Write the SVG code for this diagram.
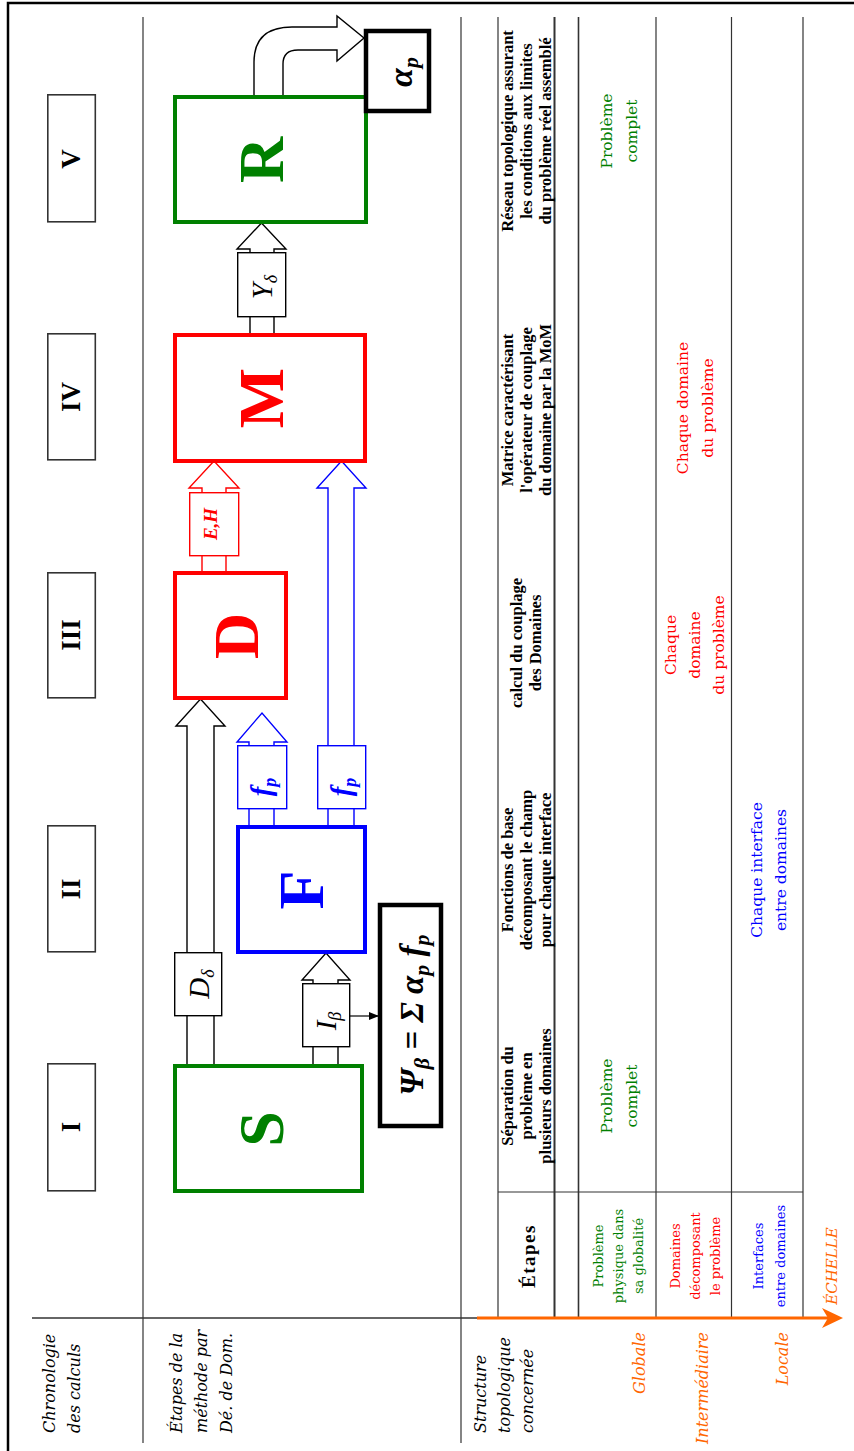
<svg xmlns="http://www.w3.org/2000/svg" width="854" height="1451" viewBox="0 0 854 1451">
<style>
.grid{stroke:#333;stroke-width:1.2;fill:none}
.chrono{fill:#fff;stroke:#333;stroke-width:1.6}
.roman{font-family:"Liberation Serif",serif;font-weight:bold;font-size:27px;text-anchor:middle;fill:#000}
.big{font-family:"Liberation Serif",serif;font-weight:bold;font-size:64px;text-anchor:middle}
.lbl{font-family:"Liberation Serif",serif;font-style:italic;font-size:29px;text-anchor:middle}
.hdr{font-family:"Liberation Serif",serif;font-weight:bold;font-size:16.5px;text-anchor:middle;fill:#000}
.cell{font-family:"DejaVu Serif",serif;font-size:15.5px;text-anchor:middle}
.small{font-family:"DejaVu Serif",serif;font-size:13px;text-anchor:middle}
.ital{font-family:"DejaVu Serif",serif;font-style:italic;font-size:16px}
.arrow{fill:#fff;stroke-width:1.4}
.tag{fill:#fff;stroke-width:1.4}
</style>
<defs>
<marker id="ah" markerWidth="10" markerHeight="8" refX="9" refY="4" orient="auto" markerUnits="userSpaceOnUse">
<path d="M0,0 L10,4 L0,8 Z" fill="#000"/>
</marker>
</defs>
<rect width="854" height="1451" fill="#fff"/>
<rect x="8" y="3" width="900" height="1500" fill="none" stroke="#000" stroke-width="2.5"/>

<g id="grid">
<line class="grid" x1="143" y1="17" x2="143" y2="1443"/>
<line class="grid" x1="461" y1="17" x2="461" y2="1443"/>
<line class="grid" x1="498" y1="17" x2="498" y2="1318"/>
<line class="grid" x1="554.5" y1="17" x2="554.5" y2="1318" style="stroke-width:2"/>
<line class="grid" x1="578.5" y1="17" x2="578.5" y2="1318" style="stroke-width:1.6"/>
<line class="grid" x1="656" y1="17" x2="656" y2="1318"/>
<line class="grid" x1="731.5" y1="17" x2="731.5" y2="1318"/>
<line class="grid" x1="803" y1="17" x2="803" y2="1318"/>
<line class="grid" x1="498" y1="1192" x2="803" y2="1192"/>
<line class="grid" x1="32" y1="1318" x2="477" y2="1318" style="stroke-width:1.5"/>
</g>

<g id="axis">
<line x1="477" y1="1318" x2="830" y2="1318" stroke="#FF6600" stroke-width="3"/>
<polygon points="843,1318 822,1308 828,1318 822,1328" fill="#FF6600"/>
<text class="ital" fill="#FF6600" style="font-size:15px;text-anchor:middle" transform="translate(837,1266) rotate(-90)">ÉCHELLE</text>
</g>

<g id="row-labels">
<text class="ital" fill="#000" transform="translate(55,1433) rotate(-90)">Chronologie<tspan x="0" dy="25">des calculs</tspan></text>
<text class="ital" fill="#000" transform="translate(182,1433) rotate(-90)">Étapes de la<tspan x="0" dy="25">méthode par</tspan><tspan x="0" dy="25">Dé. de Dom.</tspan></text>
<text class="ital" fill="#000" transform="translate(486,1433) rotate(-90)">Structure<tspan x="0" dy="23.5">topologique</tspan><tspan x="0" dy="23.5">concernée</tspan></text>
<text class="ital" fill="#FF6600" style="text-anchor:end" transform="translate(645,1332) rotate(-90)">Globale</text>
<text class="ital" fill="#FF6600" style="text-anchor:end" transform="translate(708,1332) rotate(-90)">Intermédiaire</text>
<text class="ital" fill="#FF6600" style="text-anchor:end" transform="translate(788,1332) rotate(-90)">Locale</text>
</g>

<g id="table">
<text class="hdr" style="font-size:19px;letter-spacing:1.5px" transform="translate(535,1256) rotate(-90)">Étapes</text>
<text class="small" fill="#008000" transform="translate(603,1256) rotate(-90)">Problème<tspan x="0" dy="20">physique dans</tspan><tspan x="0" dy="20">sa globalité</tspan></text>
<text class="small" fill="#FF0000" transform="translate(680,1256) rotate(-90)">Domaines<tspan x="0" dy="20">décomposant</tspan><tspan x="0" dy="20">le problème</tspan></text>
<text class="small" fill="#0000FF" transform="translate(763,1256) rotate(-90)">Interfaces<tspan x="0" dy="22">entre domaines</tspan></text>

<text class="hdr" transform="translate(513,1096) rotate(-90)">Séparation du<tspan x="0" dy="19">problème en</tspan><tspan x="0" dy="19">plusieurs domaines</tspan></text>
<text class="hdr" transform="translate(513,870) rotate(-90)">Fonctions de base<tspan x="0" dy="19">décomposant le champ</tspan><tspan x="0" dy="19">pour chaque interface</tspan></text>
<text class="hdr" transform="translate(522,643) rotate(-90)">calcul du couplage<tspan x="0" dy="19">des Domaines</tspan></text>
<text class="hdr" transform="translate(513,410) rotate(-90)">Matrice caractérisant<tspan x="0" dy="19">l'opérateur de couplage</tspan><tspan x="0" dy="19">du domaine par la MoM</tspan></text>
<text class="hdr" transform="translate(513,131) rotate(-90)">Réseau topologique assurant<tspan x="0" dy="19">les conditions aux limites</tspan><tspan x="0" dy="19">du problème réel assemblé</tspan></text>

<text class="cell" fill="#008000" transform="translate(612,1096) rotate(-90)">Problème<tspan x="0" dy="25">complet</tspan></text>
<text class="cell" fill="#008000" transform="translate(612,131) rotate(-90)">Problème<tspan x="0" dy="25">complet</tspan></text>
<text class="cell" fill="#FF0000" transform="translate(676,645) rotate(-90)">Chaque<tspan x="0" dy="24">domaine</tspan><tspan x="0" dy="24">du problème</tspan></text>
<text class="cell" fill="#FF0000" transform="translate(688,408) rotate(-90)">Chaque domaine<tspan x="0" dy="25">du problème</tspan></text>
<text class="cell" fill="#0000FF" transform="translate(762,870) rotate(-90)">Chaque interface<tspan x="0" dy="24">entre domaines</tspan></text>
</g>

<g id="node-I"><rect class="chrono" x="47.8" y="1063.8" width="47.5" height="127"/><text class="roman" transform="translate(80,1127) rotate(-90)">I</text></g>
<g id="node-II"><rect class="chrono" x="47.8" y="825.8" width="47.5" height="126"/><text class="roman" transform="translate(80,889) rotate(-90)">II</text></g>
<g id="node-III"><rect class="chrono" x="47.8" y="572.8" width="47.5" height="125"/><text class="roman" transform="translate(80,635) rotate(-90)">III</text></g>
<g id="node-IV"><rect class="chrono" x="47.8" y="333.8" width="47.5" height="126"/><text class="roman" transform="translate(80,397) rotate(-90)">IV</text></g>
<g id="node-V"><rect class="chrono" x="47.8" y="94.8" width="47.5" height="127"/><text class="roman" transform="translate(80,159) rotate(-90)">V</text></g>

<g id="connectors">
<polygon class="arrow" stroke="#000" points="187,1065 187,726 176,726 200.5,699 225,726 214,726 214,1065"/>
<rect class="tag" stroke="#000" x="174.7" y="952.7" width="47" height="63"/>
<text class="lbl" transform="translate(209,984) rotate(-90)">D<tspan font-size="18" dy="5">δ</tspan></text>
<polygon class="arrow" stroke="#000" points="313,1065 313,980 302,980 326,953 350,980 338,980 338,1065"/>
<rect class="tag" stroke="#000" x="302.7" y="983.7" width="47" height="63"/>
<text class="lbl" transform="translate(336,1021) rotate(-90)">I<tspan font-size="18" dy="5">β</tspan></text>
<line x1="350" y1="1016" x2="378" y2="1016" stroke="#000" stroke-width="1.2" marker-end="url(#ah)"/>
<polygon class="arrow" stroke="#0000FF" points="249,826 249,742 237,742 262,713 287,742 274,742 274,826"/>
<rect class="tag" stroke="#0000FF" x="237.7" y="745.7" width="49" height="63"/>
<text class="lbl" fill="#0000FF" style="font-weight:bold" transform="translate(271,787) rotate(-90)">f<tspan font-size="18" dy="5">p</tspan></text>
<polygon class="arrow" stroke="#0000FF" points="328,826 328,488 317,488 341.5,461 366,488 354,488 354,826"/>
<rect class="tag" stroke="#0000FF" x="317.7" y="745.7" width="48" height="63"/>
<text class="lbl" fill="#0000FF" style="font-weight:bold" transform="translate(351,787) rotate(-90)">f<tspan font-size="18" dy="5">p</tspan></text>
<polygon class="arrow" stroke="#FF0000" points="202,572 202,488 189,488 214,461 239,488 226,488 226,572"/>
<rect class="tag" stroke="#FF0000" x="189.7" y="492.7" width="49" height="63"/>
<text class="lbl" fill="#FF0000" style="font-size:19px;font-weight:bold" transform="translate(217,524) rotate(-90)">E,H</text>
<polygon class="arrow" stroke="#000" points="250,334 250,249 237,249 261.5,223 286,249 274,249 274,334"/>
<rect class="tag" stroke="#000" x="237.7" y="252.7" width="48" height="64"/>
<text class="lbl" transform="translate(272,287) rotate(-90)">Y<tspan font-size="18" dy="5">δ</tspan></text>
<path class="arrow" stroke="#000" d="M254,96 L254,62 Q254,27 292,27 L337,27 L337,16 L364,38 L337,61 L337,50 L298,50 Q283,50 283,64 L283,96 Z"/>
</g>

<g id="node-S"><rect x="175" y="1066" width="187" height="125" fill="none" stroke="#008000" stroke-width="4"/><text class="big" fill="#008000" transform="translate(283,1129) rotate(-90)">S</text></g>
<g id="node-F"><rect x="238" y="827" width="127" height="125" fill="none" stroke="#0000FF" stroke-width="4"/><text class="big" fill="#0000FF" transform="translate(323,890) rotate(-90)">F</text></g>
<g id="node-D"><rect x="175" y="573" width="111" height="125" fill="none" stroke="#FF0000" stroke-width="4"/><text class="big" fill="#FF0000" transform="translate(258,636) rotate(-90)">D</text></g>
<g id="node-M"><rect x="175" y="335" width="190" height="126" fill="none" stroke="#FF0000" stroke-width="4"/><text class="big" fill="#FF0000" transform="translate(283,398) rotate(-90)">M</text></g>
<g id="node-R"><rect x="175" y="97" width="191" height="125" fill="none" stroke="#008000" stroke-width="4"/><text class="big" fill="#008000" transform="translate(283,160) rotate(-90)">R</text></g>
<g id="node-alpha"><rect x="366" y="31" width="63" height="80" fill="#fff" stroke="#000" stroke-width="4.5"/><text class="lbl" style="font-weight:bold;font-size:34px" transform="translate(412,72) rotate(-90)">α<tspan font-size="22" dy="6">p</tspan></text></g>
<g id="node-formula"><rect x="380" y="905" width="61" height="221" fill="#fff" stroke="#000" stroke-width="4.5"/><text class="lbl" style="font-weight:bold;font-size:33px" transform="translate(423,1015) rotate(-90)">Ψ<tspan font-size="22" dy="6">β</tspan><tspan dy="-6"> = Σ α</tspan><tspan font-size="22" dy="6">p</tspan><tspan dy="-6"> f</tspan><tspan font-size="22" dy="6">p</tspan></text></g>
</svg>
